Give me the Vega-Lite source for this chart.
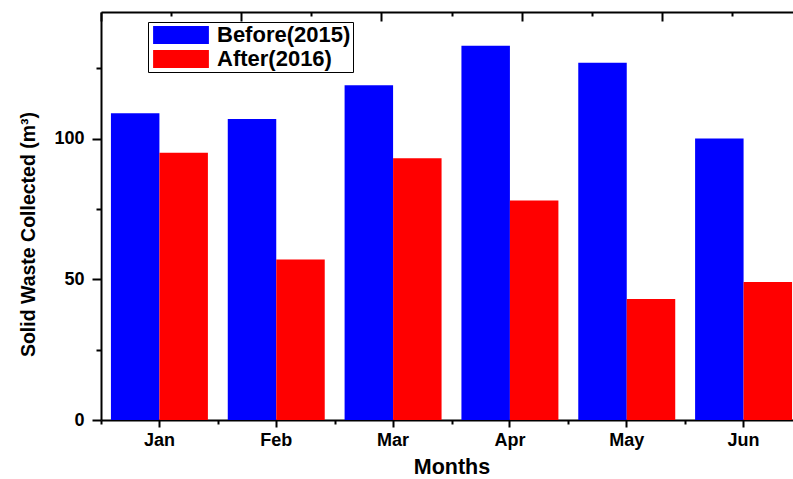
{
  "$schema": "https://vega.github.io/schema/vega-lite/v6.json",
  "autosize": "none",
  "width": 692,
  "height": 408,
  "padding": {"left": 101, "top": 12, "right": 0, "bottom": 59},
  "background": "white",
  "config": {
    "view": {"stroke": null},
    "font": "Liberation Sans",
    "axis": {
      "domainColor": "black",
      "domainWidth": 2,
      "tickColor": "black",
      "tickWidth": 2,
      "grid": false,
      "labelColor": "black",
      "titleColor": "black",
      "labelFont": "Liberation Sans",
      "titleFont": "Liberation Sans"
    }
  },
  "data": {
    "values": [
      {"Month": "Jan", "Series": "Before(2015)", "Value": 109},
      {"Month": "Jan", "Series": "After(2016)", "Value": 95},
      {"Month": "Feb", "Series": "Before(2015)", "Value": 107},
      {"Month": "Feb", "Series": "After(2016)", "Value": 57},
      {"Month": "Mar", "Series": "Before(2015)", "Value": 119},
      {"Month": "Mar", "Series": "After(2016)", "Value": 93},
      {"Month": "Apr", "Series": "Before(2015)", "Value": 133},
      {"Month": "Apr", "Series": "After(2016)", "Value": 78},
      {"Month": "May", "Series": "Before(2015)", "Value": 127},
      {"Month": "May", "Series": "After(2016)", "Value": 43},
      {"Month": "Jun", "Series": "Before(2015)", "Value": 100},
      {"Month": "Jun", "Series": "After(2016)", "Value": 49}
    ]
  },
  "layer": [
    {
      "mark": {"type": "bar", "cornerRadius": 0},
      "encoding": {
        "x": {
          "field": "Month",
          "type": "nominal",
          "sort": ["Jan", "Feb", "Mar", "Apr", "May", "Jun"],
          "scale": {"range": [0, 701], "paddingInner": 0.17, "paddingOuter": 0.085},
          "axis": {
            "orient": "bottom",
            "title": "Months",
            "titleFontSize": 21.5,
            "titleFontWeight": "bold",
            "titlePadding": 7,
            "labelFontSize": 18,
            "labelFontWeight": "bold",
            "labelAngle": 0,
            "labelPadding": 4,
            "tickSize": 7
          }
        },
        "xOffset": {
          "field": "Series",
          "type": "nominal",
          "sort": ["Before(2015)", "After(2016)"],
          "scale": {"paddingInner": 0, "paddingOuter": 0}
        },
        "y": {
          "field": "Value",
          "type": "quantitative",
          "scale": {"domain": [0, 145], "nice": false},
          "axis": {
            "title": "Solid Waste Collected (m³)",
            "titleFontSize": 19.5,
            "titleFontWeight": "bold",
            "titlePadding": 15,
            "titleY": 222,
            "values": [0, 25, 50, 75, 100, 125],
            "labelExpr": "datum.value % 50 === 0 ? datum.label : ''",
            "labelFontSize": 18,
            "labelFontWeight": "bold",
            "labelPadding": 8,
            "tickSize": {"condition": {"test": "datum.value % 50 === 0", "value": 9}, "value": 5}
          }
        },
        "color": {
          "field": "Series",
          "type": "nominal",
          "sort": ["Before(2015)", "After(2016)"],
          "scale": {"domain": ["Before(2015)", "After(2016)"], "range": ["#0000FF", "#FF0000"]},
          "legend": {
            "title": null,
            "orient": "none",
            "legendX": 47,
            "legendY": 10,
            "direction": "vertical",
            "fillColor": "white",
            "strokeColor": "black",
            "padding": 2,
            "symbolType": "M-3.1,-1H3.1V1H-3.1Z",
            "symbolSize": 324,
            "symbolStrokeWidth": 0,
            "symbolOpacity": 1,
            "symbolOffset": 20,
            "labelOffset": 25,
            "labelFont": "Liberation Sans",
            "labelFontSize": 22,
            "labelFontWeight": "bold",
            "labelColor": "black",
            "labelBaseline": "middle",
            "rowPadding": 2
          }
        }
      }
    },
    {
      "mark": {"type": "rule", "opacity": 0},
      "encoding": {
        "x": {
          "datum": 0,
          "type": "quantitative",
          "scale": {"domain": [0, 6], "range": [0, 701], "nice": false, "zero": false},
          "axis": {
            "orient": "bottom",
            "title": null,
            "values": [0, 1, 2, 3, 4, 5, 6],
            "labels": false,
            "domain": false,
            "tickSize": 4
          }
        }
      }
    },
    {
      "mark": {"type": "rule", "opacity": 0},
      "encoding": {
        "x": {
          "datum": 0,
          "type": "quantitative",
          "scale": {"domain": [0, 5], "range": [0, 701], "nice": false, "zero": false},
          "axis": {
            "orient": "top",
            "title": null,
            "values": [0, 0.5, 1, 1.5, 2, 2.5, 3, 3.5, 4, 4.5, 5],
            "labels": false,
            "tickSize": {"condition": {"test": "datum.value % 1 === 0", "value": -9}, "value": -4}
          }
        }
      }
    }
  ],
  "resolve": {"scale": {"x": "independent"}, "axis": {"x": "independent"}}
}
